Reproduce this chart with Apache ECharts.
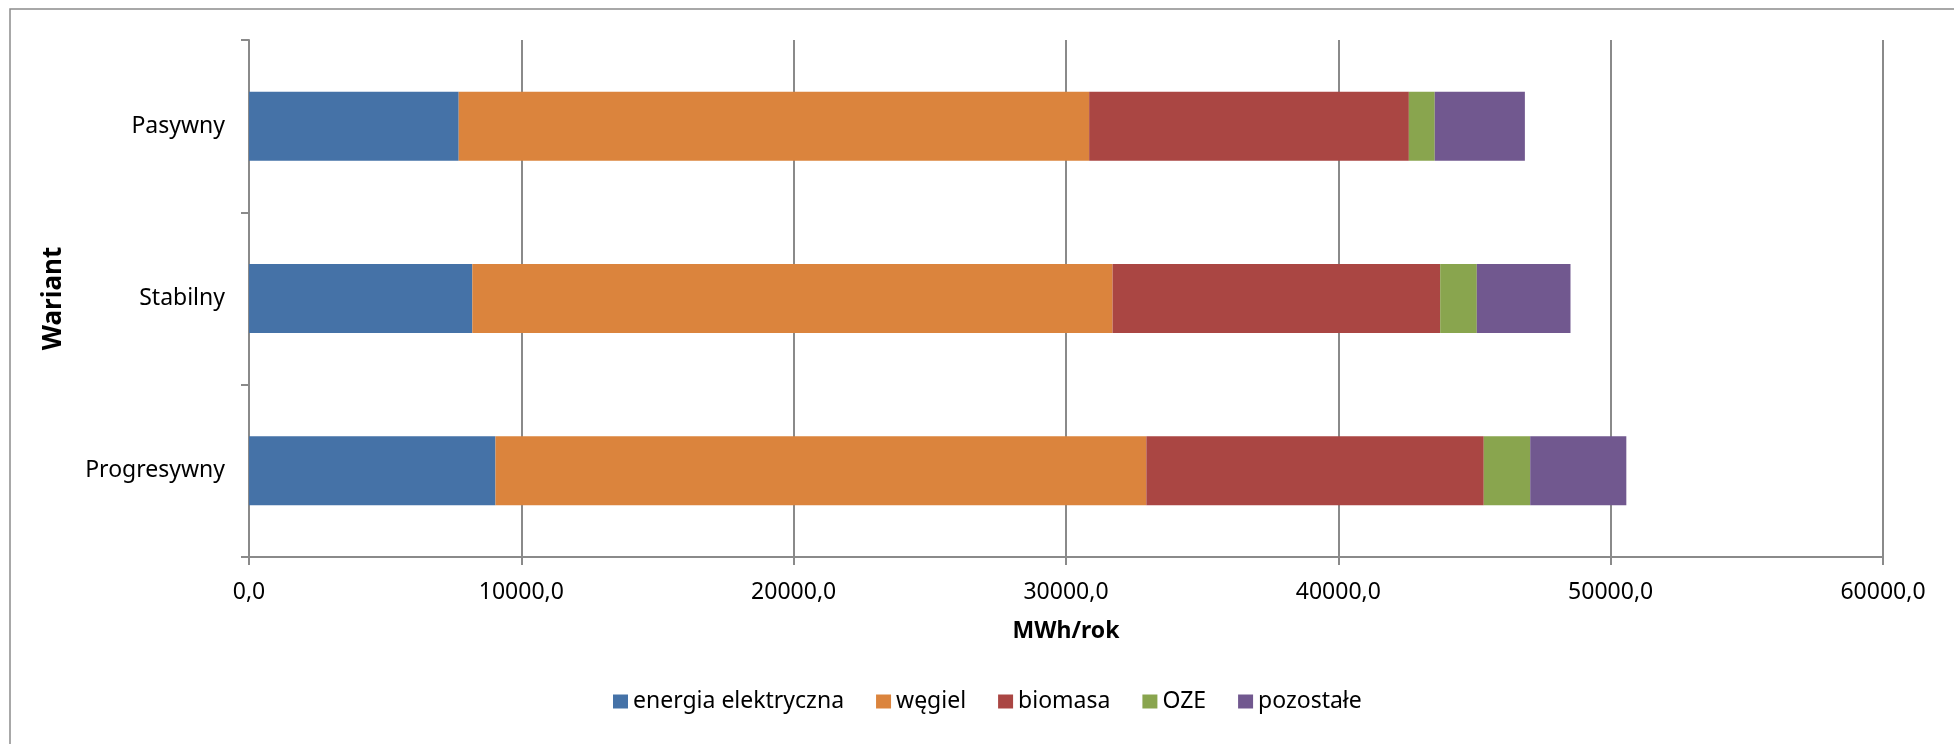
<!DOCTYPE html>
<html>
<head>
<meta charset="utf-8">
<script src="https://cdn.jsdelivr.net/npm/echarts@6/dist/echarts.min.js"></script>
<style>
  html, body { margin: 0; padding: 0; background: #fff; }
  #chart { width: 1954px; height: 744px; }
</style>
</head>
<body>
<div id="chart"></div>
<script>
// warianty (od dołu do góry)
const warianty = ['Progresywny', 'Stabilny', 'Pasywny']
const serieNazwy = ['energia elektryczna', 'węgiel', 'biomasa', 'OZE', 'pozostałe']
const kolory = ['#4572A7', '#DB843D', '#AA4643', '#89A54E', '#71588F']

// MWh/rok, kolejność jak warianty
const energiaElektryczna = [9050, 8200, 7700]
const wegiel = [23900, 23510, 23150]
const biomasa = [12390, 12030, 11740]
const oze = [1705, 1345, 950]
const pozostale = [3530, 3440, 3310]

const osX = [0, 10000, 20000, 30000, 40000, 50000, 60000]

const dane = [energiaElektryczna, wegiel, biomasa, oze, pozostale]
const font = 'Noto Sans'
const szary = '#8a8a8a'

const chart = echarts.init(document.getElementById('chart'))

const option = {
  animation: false,
  color: kolory,
  graphic: [
    {
      type: 'rect',
      shape: { x: 10, y: 9, width: 2100, height: 900 },
      style: { fill: 'none', stroke: '#8c8c8c', lineWidth: 1.5 }
    }
  ],
  grid: {
    left: 249,
    right: 71,
    top: 40,
    bottom: 187
  },
  legend: {
    bottom: 26,
    left: 608,
    itemWidth: 15,
    itemHeight: 14,
    itemGap: 32,
    icon: 'rect',
    textStyle: { fontFamily: font, fontSize: 23, color: '#000' },
    data: serieNazwy
  },
  xAxis: {
    type: 'value',
    min: osX[0],
    max: osX[osX.length - 1],
    interval: 10000,
    name: 'MWh/rok',
    nameLocation: 'middle',
    nameGap: 63,
    nameTextStyle: { fontFamily: font, fontSize: 23, fontWeight: 'bold', color: '#000' },
    axisLine: { show: true, lineStyle: { color: szary, width: 2 } },
    axisTick: { show: true, length: 8, lineStyle: { color: szary, width: 2 } },
    axisLabel: {
      margin: 24,
      fontFamily: font,
      fontSize: 23,
      color: '#000',
      formatter: v => v.toFixed(1).replace('.', ',')
    },
    splitLine: { show: true, lineStyle: { color: szary, width: 2 } }
  },
  yAxis: {
    type: 'category',
    data: warianty,
    name: 'Wariant',
    nameLocation: 'middle',
    nameGap: 182,
    nameTextStyle: { fontFamily: font, fontSize: 26, fontWeight: 'bold', color: '#000' },
    axisLine: { show: true, lineStyle: { color: szary, width: 2 } },
    axisTick: { show: true, length: 8, lineStyle: { color: szary, width: 2 } },
    axisLabel: { margin: 24, fontFamily: font, fontSize: 23, color: '#000' },
    splitLine: { show: false }
  },
  series: serieNazwy.map((nazwa, i) => ({
    name: nazwa,
    type: 'bar',
    stack: 'suma',
    barWidth: '40%',
    data: dane[i]
  }))
}

chart.setOption(option)
</script>
</body>
</html>
